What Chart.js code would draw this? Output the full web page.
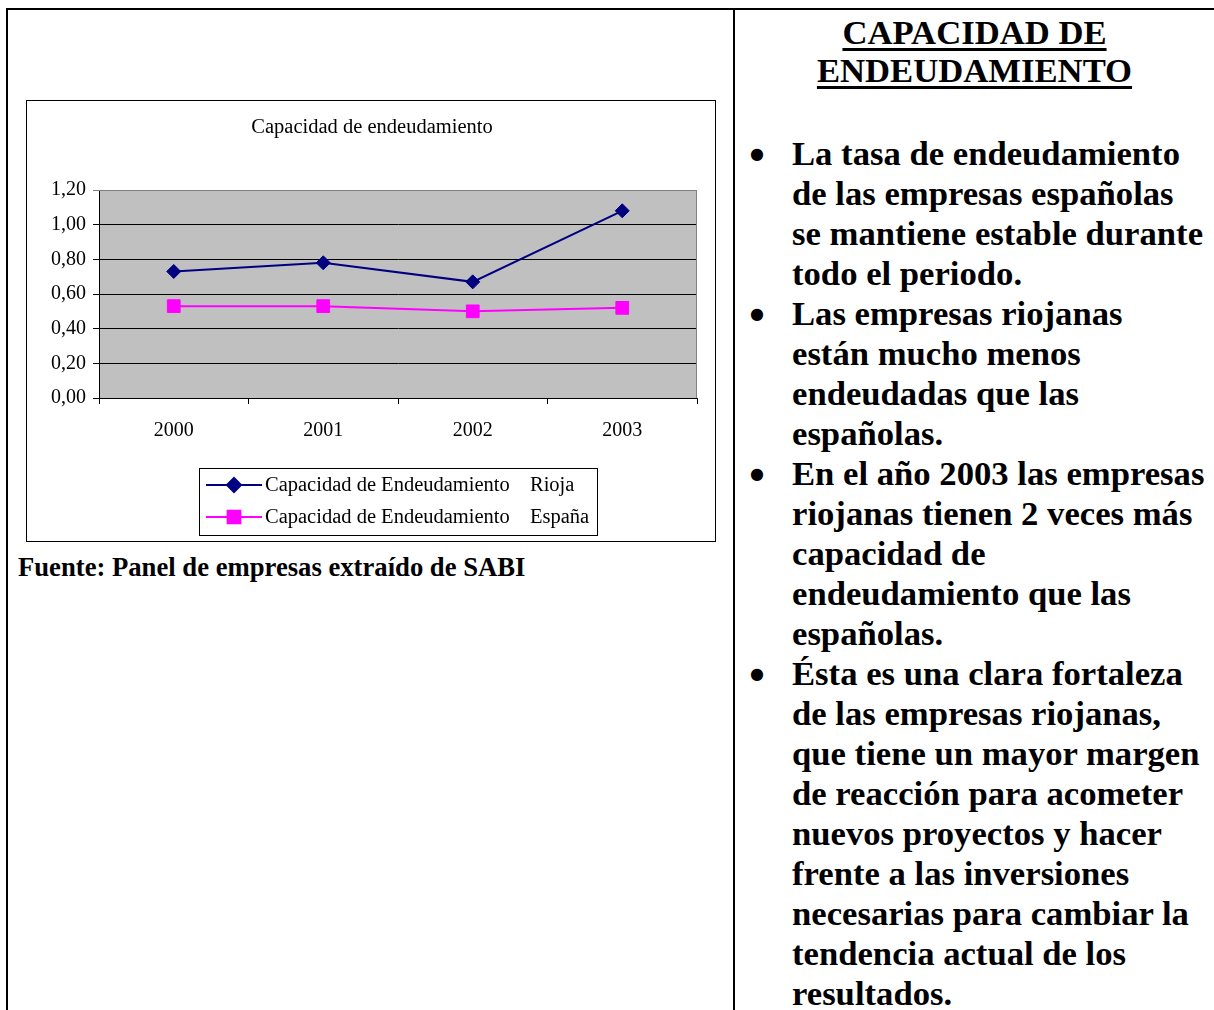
<!DOCTYPE html>
<html>
<head>
<meta charset="utf-8">
<script src="https://cdn.jsdelivr.net/npm/chart.js@4"></script>
<style>
  body { margin: 0; background: #fff; font-family: "Liberation Serif", "Times New Roman", serif; }
  .line { position: absolute; background: #000; }
  #box { position: absolute; left: 26px; top: 100px; width: 688px; height: 440px; border: 1px solid #000; }
  #box canvas { display: block; }
  #fuente { position: absolute; left: 18px; top: 552px; font-weight: bold; font-size: 26.67px; line-height: 30px; white-space: nowrap; }
  #right { position: absolute; left: 735px; top: 13px; width: 479px; }
  h1 { margin: 0; text-align: center; font-size: 34.67px; line-height: 38px; font-weight: bold; text-decoration: underline; text-decoration-thickness: 3px; text-underline-offset: 4px; }
  ul { margin: 0; padding: 0; list-style: none; position: absolute; top: 120px; left: 0; }
  li { position: relative; padding-left: 57px; font-size: 34.67px; line-height: 40px; font-weight: bold; white-space: nowrap; }
  li::before { content: "\25CF"; position: absolute; left: 15px; top: 1px; font-size: 16px; font-family: "DejaVu Sans", sans-serif; }
</style>
</head>
<body>
<div class="line" style="left:6px;top:8px;width:1300px;height:2px"></div>
<div class="line" style="left:6px;top:8px;width:2px;height:1010px"></div>
<div class="line" style="left:733px;top:8px;width:2px;height:1010px"></div>

<div id="box"><canvas id="chart" width="688" height="440"></canvas></div>
<div id="fuente">Fuente: Panel de empresas extraído de SABI</div>

<div id="right">
  <h1>CAPACIDAD DE<br>ENDEUDAMIENTO</h1>
  <ul>
    <li>La tasa de endeudamiento<br>de las empresas españolas<br>se mantiene estable durante<br>todo el periodo.</li>
    <li>Las empresas riojanas<br>están mucho menos<br>endeudadas que las<br>españolas.</li>
    <li>En el año 2003 las empresas<br>riojanas tienen 2 veces más<br>capacidad de<br>endeudamiento que las<br>españolas.</li>
    <li>Ésta es una clara fortaleza<br>de las empresas riojanas,<br>que tiene un mayor margen<br>de reacción para acometer<br>nuevos proyectos y hacer<br>frente a las inversiones<br>necesarias para cambiar la<br>tendencia actual de los<br>resultados.</li>
  </ul>
</div>

<script>
const years = ['2000', '2001', '2002', '2003'];
const rioja = [0.73, 0.78, 0.67, 1.08];
const espana = [0.53, 0.53, 0.50, 0.52];
const yTicks = [0, 0.2, 0.4, 0.6, 0.8, 1.0, 1.2];
const seriesNames = ['Capacidad de Endeudamiento\tRioja', 'Capacidad de Endeudamiento\tEspaña'];
const chartTitle = 'Capacidad de endeudamiento';

const FONT = '20.5px "Liberation Serif", "Times New Roman", serif';

// gray plot background + gray top/right frame
const plotBg = {
  id: 'plotBg',
  beforeDraw(chart) {
    const { ctx, chartArea: a } = chart;
    ctx.save();
    ctx.fillStyle = '#C0C0C0';
    ctx.fillRect(a.left, a.top, a.right - a.left, a.bottom - a.top);
    ctx.restore();
  },
  beforeDatasetsDraw(chart) {
    const { ctx, chartArea: a } = chart;
    ctx.save();
    ctx.strokeStyle = '#808080';
    ctx.lineWidth = 1;
    ctx.beginPath();
    ctx.moveTo(a.left, a.top + 0.5);
    ctx.lineTo(a.right - 0.5, a.top + 0.5);
    ctx.lineTo(a.right - 0.5, a.bottom);
    ctx.stroke();
    ctx.restore();
  }
};

// title and boxed legend (line + marker sample)
const extras = {
  id: 'extras',
  afterDraw(chart) {
    const ctx = chart.ctx;
    ctx.save();
    ctx.font = FONT;
    ctx.fillStyle = '#000';
    ctx.textAlign = 'center';
    ctx.textBaseline = 'middle';
    ctx.fillText(chartTitle, 345, 27);

    const bx = 172, by = 367, bw = 398, bh = 67;
    ctx.strokeStyle = '#000';
    ctx.lineWidth = 1;
    ctx.strokeRect(bx + 0.5, by + 0.5, bw, bh);

    chart.data.datasets.forEach((ds, i) => {
      const y = by + 17 + i * 32;
      ctx.strokeStyle = ds.borderColor;
      ctx.lineWidth = 2;
      ctx.beginPath();
      ctx.moveTo(bx + 7, y);
      ctx.lineTo(bx + 63, y);
      ctx.stroke();
      ctx.fillStyle = ds.backgroundColor;
      Chart.helpers.drawPoint(ctx, { pointStyle: ds.pointStyle, radius: ds.pointRadius, rotation: 0, borderWidth: 1 }, bx + 35, y);
      ctx.fill();
      const parts = ds.label.split('\t');
      ctx.fillStyle = '#000';
      ctx.textAlign = 'left';
      ctx.fillText(parts[0], bx + 66, y + 1);
      ctx.fillText(parts[1], bx + 331, y + 1);
    });
    ctx.restore();
  }
};

new Chart(document.getElementById('chart'), {
  type: 'line',
  data: {
    labels: years,
    datasets: [
      {
        label: seriesNames[0],
        data: rioja,
        borderColor: '#000080',
        backgroundColor: '#000080',
        borderWidth: 2,
        pointStyle: 'rectRot',
        pointRadius: 7,
        pointBorderWidth: 1,
        tension: 0
      },
      {
        label: seriesNames[1],
        data: espana,
        borderColor: '#FF00FF',
        backgroundColor: '#FF00FF',
        borderWidth: 2,
        pointStyle: 'rect',
        pointRadius: 9,
        pointBorderWidth: 1,
        tension: 0
      }
    ]
  },
  options: {
    responsive: false,
    animation: false,
    layout: { padding: { left: 0, right: 18, top: 89, bottom: 98 } },
    plugins: {
      legend: { display: false },
      tooltip: { enabled: false },
      title: { display: false }
    },
    scales: {
      x: {
        offset: true,
        afterFit(scale) { scale.height = 45; },
        grid: { offset: true, drawOnChartArea: false, tickLength: 6, color: '#000' },
        border: { color: '#000', width: 1 },
        ticks: { color: '#000', font: { family: '"Liberation Serif", serif', size: 20 }, padding: 15 }
      },
      y: {
        min: 0,
        max: 1.2,
        afterFit(scale) { scale.width = 72; },
        afterBuildTicks(scale) { scale.ticks = yTicks.map(v => ({ value: v })); },
        grid: {
          tickLength: 6,
          color: ctx => (ctx.tick && ctx.tick.value === 1.2) ? '#808080' : '#000',
          lineWidth: 1
        },
        border: { color: '#000', width: 1 },
        ticks: {
          color: '#000',
          font: { family: '"Liberation Serif", serif', size: 20 },
          padding: 7,
          callback: v => v.toFixed(2).replace('.', ',')
        }
      }
    }
  },
  plugins: [plotBg, extras]
});
</script>
</body>
</html>
